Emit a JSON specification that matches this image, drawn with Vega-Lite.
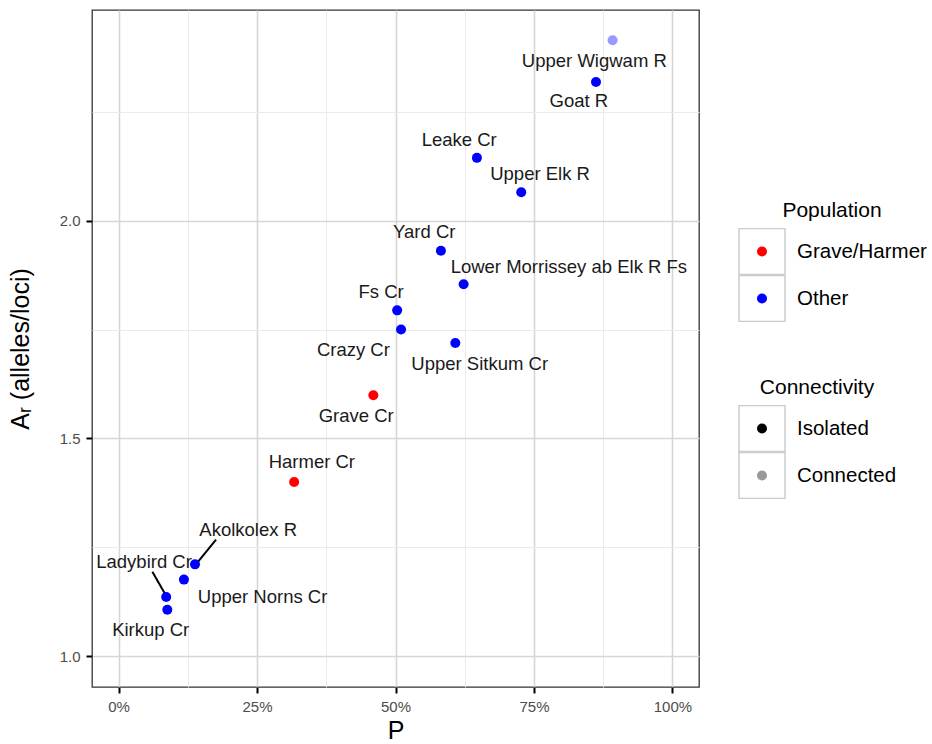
{
  "$schema": "https://vega.github.io/schema/vega-lite/v6.json",
  "width": 607,
  "height": 677,
  "autosize": {"type": "none"},
  "padding": {"left": 92, "top": 10, "right": 233, "bottom": 57},
  "background": "white",
  "data": {"values": [
    {"site": "Upper Wigwam R", "pop": "Other", "conn": "Connected", "P": 0.892, "AR": 2.414, "lx": 0.859, "ly": 2.367},
    {"site": "Goat R", "pop": "Other", "conn": "Isolated", "P": 0.862, "AR": 2.318, "lx": 0.831, "ly": 2.274},
    {"site": "Leake Cr", "pop": "Other", "conn": "Isolated", "P": 0.647, "AR": 2.144, "lx": 0.615, "ly": 2.185},
    {"site": "Upper Elk R", "pop": "Other", "conn": "Isolated", "P": 0.727, "AR": 2.065, "lx": 0.761, "ly": 2.107},
    {"site": "Yard Cr", "pop": "Other", "conn": "Isolated", "P": 0.582, "AR": 1.931, "lx": 0.552, "ly": 1.974},
    {"site": "Lower Morrissey ab Elk R Fs", "pop": "Other", "conn": "Isolated", "P": 0.623, "AR": 1.854, "lx": 0.813, "ly": 1.894},
    {"site": "Fs Cr", "pop": "Other", "conn": "Isolated", "P": 0.503, "AR": 1.794, "lx": 0.474, "ly": 1.835},
    {"site": "Crazy Cr", "pop": "Other", "conn": "Isolated", "P": 0.510, "AR": 1.750, "lx": 0.424, "ly": 1.704},
    {"site": "Upper Sitkum Cr", "pop": "Other", "conn": "Isolated", "P": 0.608, "AR": 1.719, "lx": 0.652, "ly": 1.671},
    {"site": "Grave Cr", "pop": "Grave/Harmer", "conn": "Isolated", "P": 0.460, "AR": 1.599, "lx": 0.429, "ly": 1.552},
    {"site": "Harmer Cr", "pop": "Grave/Harmer", "conn": "Isolated", "P": 0.317, "AR": 1.400, "lx": 0.349, "ly": 1.445},
    {"site": "Akolkolex R", "pop": "Other", "conn": "Isolated", "P": 0.138, "AR": 1.211, "lx": 0.234, "ly": 1.291, "sx": 0.176, "sy": 1.268, "sx2": 0.144, "sy2": 1.218},
    {"site": "Upper Norns Cr", "pop": "Other", "conn": "Isolated", "P": 0.118, "AR": 1.176, "lx": 0.260, "ly": 1.135},
    {"site": "Ladybird Cr", "pop": "Other", "conn": "Isolated", "P": 0.086, "AR": 1.136, "lx": 0.046, "ly": 1.217, "sx": 0.061, "sy": 1.194, "sx2": 0.083, "sy2": 1.145},
    {"site": "Kirkup Cr", "pop": "Other", "conn": "Isolated", "P": 0.088, "AR": 1.107, "lx": 0.058, "ly": 1.060}
  ]},
  "resolve": {"scale": {"shape": "independent"}, "legend": {"shape": "independent"}, "axis": {"x": "independent", "y": "independent"}},
  "layer": [
    {
      "mark": {"type": "rule", "color": "transparent"},
      "encoding": {
        "x": {"field": "P", "type": "quantitative",
          "axis": {"orient": "bottom", "values": [0.125, 0.375, 0.625, 0.875], "grid": true, "gridColor": "#ebebeb", "gridWidth": 1,
            "labels": false, "ticks": false, "domain": false, "title": null, "zindex": 0}},
        "y": {"field": "AR", "type": "quantitative",
          "axis": {"orient": "left", "values": [1.25, 1.75, 2.25], "grid": true, "gridColor": "#ebebeb", "gridWidth": 1,
            "labels": false, "ticks": false, "domain": false, "title": null, "zindex": 0}}
      }
    },
    {
      "mark": {"type": "point", "filled": true, "size": 100, "opacity": 0, "fill": "transparent", "stroke": "#cccccc", "strokeWidth": 1.5},
      "encoding": {
        "x": {"field": "P", "type": "quantitative", "axis": null},
        "y": {"field": "AR", "type": "quantitative", "axis": null},
        "shape": {"field": "pop", "type": "nominal",
          "scale": {"domain": ["Grave/Harmer", "Other"], "range": ["square", "square"]},
          "legend": {"orient": "none", "legendX": 646, "legendY": 190, "title": "Population",
            "titleFontSize": 21, "titleFont": "Liberation Sans", "titleColor": "black", "titleFontWeight": "normal",
            "titleAnchor": "middle", "titlePadding": 7, "labelFontSize": 20.5, "labelFont": "Liberation Sans",
            "labelColor": "black", "labelOffset": 11, "symbolType": "square", "symbolSize": 2116,
            "symbolStrokeWidth": 1.5, "symbolOpacity": 1, "symbolFillColor": "transparent", "symbolStrokeColor": "#cccccc",
            "clipHeight": 47, "rowPadding": 0, "padding": 0}
        }
      }
    },
    {
      "mark": {"type": "point", "filled": true, "size": 100, "opacity": 0, "fill": "transparent", "stroke": "#cccccc", "strokeWidth": 1.5},
      "encoding": {
        "x": {"field": "P", "type": "quantitative", "axis": null},
        "y": {"field": "AR", "type": "quantitative", "axis": null},
        "shape": {"field": "conn", "type": "nominal",
          "scale": {"domain": ["Isolated", "Connected"], "range": ["square", "square"]},
          "legend": {"orient": "none", "legendX": 646, "legendY": 367, "title": "Connectivity",
            "titleFontSize": 21, "titleFont": "Liberation Sans", "titleColor": "black", "titleFontWeight": "normal",
            "titleAnchor": "middle", "titlePadding": 7, "labelFontSize": 20.5, "labelFont": "Liberation Sans",
            "labelColor": "black", "labelOffset": 11, "symbolType": "square", "symbolSize": 2116,
            "symbolStrokeWidth": 1.5, "symbolOpacity": 1, "symbolFillColor": "transparent", "symbolStrokeColor": "#cccccc",
            "clipHeight": 47, "rowPadding": 0, "padding": 0}
        }
      }
    },
    {
      "mark": {"type": "point", "filled": true, "size": 100},
      "encoding": {
        "x": {"field": "P", "type": "quantitative", "title": "P",
          "scale": {"domain": [-0.048, 1.048], "nice": false, "zero": false},
          "axis": {"orient": "bottom", "values": [0, 0.25, 0.5, 0.75, 1], "format": ".0%", "grid": true, "zindex": 0,
            "ticks": true, "tickColor": "black", "tickSize": 6, "tickWidth": 2, "tickOpacity": 1, "labelPadding": 6}},
        "y": {"field": "AR", "type": "quantitative", "title": "Aᵣ (alleles/loci)",
          "scale": {"domain": [0.9295, 2.4834], "nice": false, "zero": false},
          "axis": {"orient": "left", "values": [1, 1.5, 2], "format": ".1f", "grid": true, "zindex": 0,
            "ticks": true, "tickColor": "black", "tickSize": 6, "tickWidth": 2, "tickOpacity": 1, "labelPadding": 6}},
        "color": {"field": "pop", "type": "nominal",
          "scale": {"range": ["#ff0000", "#0000ff"]},
          "legend": {"orient": "none", "legendX": 665, "legendY": 218, "title": null,
            "labelFontSize": 1, "labelColor": "transparent", "symbolType": "circle", "symbolSize": 100,
            "clipHeight": 47, "rowPadding": 0, "padding": 0, "symbolStrokeWidth": 0, "symbolOpacity": 1}},
        "opacity": {"field": "conn", "type": "ordinal", "sort": ["Isolated", "Connected"],
          "scale": {"range": [1, 0.4]},
          "legend": {"orient": "none", "legendX": 665, "legendY": 395, "title": null,
            "labelFontSize": 1, "labelColor": "transparent", "symbolType": "circle", "symbolSize": 100,
            "clipHeight": 47, "rowPadding": 0, "padding": 0, "symbolStrokeWidth": 0, "symbolFillColor": "black"}}
      }
    },
    {
      "mark": {"type": "rule", "color": "black", "strokeWidth": 2},
      "encoding": {
        "x": {"field": "sx", "type": "quantitative", "axis": null},
        "y": {"field": "sy", "type": "quantitative", "axis": null},
        "x2": {"field": "sx2"},
        "y2": {"field": "sy2"}
      }
    },
    {
      "mark": {"type": "text", "fontSize": 18.5, "font": "Liberation Sans", "color": "#1a1a1a", "align": "center", "baseline": "middle"},
      "encoding": {
        "x": {"field": "lx", "type": "quantitative", "axis": null},
        "y": {"field": "ly", "type": "quantitative", "axis": null},
        "text": {"field": "site"}
      }
    }
  ],
  "config": {
    "view": {"stroke": "#333333", "strokeWidth": 1.3},
    "axis": {
      "domain": false,
      "gridColor": "#d6d6d6",
      "gridWidth": 1.6,
      "labelFont": "Liberation Sans",
      "labelFontSize": 15,
      "labelColor": "#4d4d4d",
      "titleFont": "Liberation Sans",
      "titleFontSize": 25,
      "titleFontWeight": "normal",
      "titleColor": "black"
    },
    "axisX": {"titlePadding": 4},
    "axisY": {"titlePadding": 26}
  }
}
